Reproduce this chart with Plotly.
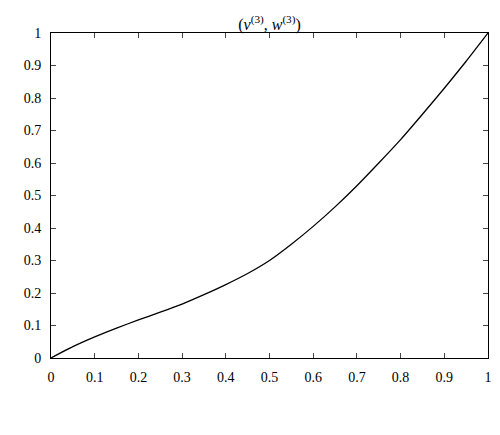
import plotly.graph_objects as go

x_vals = [0, 0.05, 0.1, 0.15, 0.2, 0.25, 0.3, 0.35, 0.4, 0.45, 0.5,
          0.55, 0.6, 0.65, 0.7, 0.75, 0.8, 0.85, 0.9, 0.95, 1.0]
y_vals = [0, 0.035, 0.065, 0.092, 0.117, 0.141, 0.166, 0.195, 0.226, 0.26, 0.3,
          0.35, 0.405, 0.465, 0.53, 0.6, 0.672, 0.75, 0.83, 0.913, 1.0]
ticks = [0, 0.1, 0.2, 0.3, 0.4, 0.5, 0.6, 0.7, 0.8, 0.9, 1]

fig = go.Figure()
fig.add_trace(go.Scatter(x=x_vals, y=y_vals, mode="lines",
                         line=dict(color="black", width=1.3, shape="spline", smoothing=0.6)))

axis = dict(range=[0, 1], tickvals=ticks, ticktext=[f"{t:g}" for t in ticks],
            ticks="inside", ticklen=5, showgrid=False, zeroline=False,
            showline=True, linecolor="black", linewidth=1, mirror="ticks",
            tickfont=dict(size=14, color="black"))

fig.update_layout(
    width=500, height=435, template="plotly_white", showlegend=False,
    font=dict(family="Liberation Serif, serif", color="black"),
    title=dict(text="(<i>v</i><sup>(3)</sup>, <i>w</i><sup>(3)</sup>)",
               x=0.5, xref="paper", y=0.975, yref="container", yanchor="top",
               font=dict(size=16)),
    margin=dict(l=43, r=20, t=25, b=85),
    xaxis=dict(axis, ticklabelstandoff=6),
    yaxis=dict(axis, ticklabelstandoff=6),
    plot_bgcolor="white", paper_bgcolor="white",
)
fig.write_html("out.html")
